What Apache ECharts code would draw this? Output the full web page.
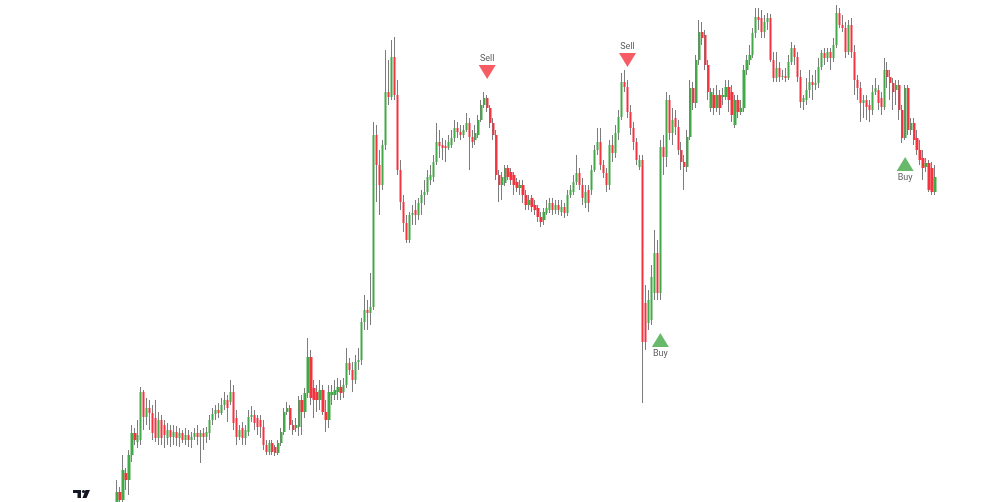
<!DOCTYPE html>
<html>
<head>
<meta charset="utf-8">
<script src="https://cdn.jsdelivr.net/npm/echarts@6/dist/echarts.min.js"></script>
<style>
html,body{margin:0;padding:0;background:#fff;}
#chart{width:1005px;height:502px;}
</style>
</head>
<body>
<div id="chart"></div>
<script>
// Each bar: [open, close, low, high]
const bars = [
[90,108,80,120],[108,100,90,113],[100,130,95,145],[127,120,110,132],[120,145,105,150],
[145,167,138,175],[167,160,155,172],[158,165,152,180],[160,208,155,213],[208,183,170,210],
[183,192,175,202],[192,187,170,200],[187,167,160,195],[182,162,158,200],[162,180,155,188],
[180,162,155,185],[175,165,152,180],[162,170,155,177],[170,163,153,175],[163,168,155,175],
[168,162,154,174],[162,167,153,172],[167,160,157,170],[160,165,155,172],[165,160,153,170],
[160,163,152,168],[163,167,160,172],[167,163,155,175],[163,167,137,170],[167,163,150,172],
[163,168,157,173],[167,180,160,185],[180,186,175,192],[186,190,180,195],[190,187,182,197],
[187,195,185,202],[195,200,190,208],[200,192,178,205],[198,208,195,220],[208,177,170,215],
[182,163,155,190],[163,170,160,175],[172,162,155,178],[162,170,155,175],[168,183,164,190],
[183,185,178,194],[185,177,170,190],[182,173,165,185],[180,173,162,185],[173,155,150,180],
[155,148,145,160],[148,157,145,160],[157,148,145,160],[153,147,144,155],[147,157,145,160],
[157,168,154,172],[168,188,165,192],[188,192,185,198],[192,175,170,195],[175,170,165,180],
[172,175,168,182],[173,200,164,204],[200,188,165,205],[188,207,182,212],[207,243,202,262],
[243,202,195,250],[212,200,182,220],[208,200,188,215],[200,210,190,220],[210,188,185,215],
[188,180,168,200],[180,208,172,215],[205,208,195,215],[205,210,200,220],[208,213,200,222],
[213,207,200,220],[208,215,202,222],[215,237,212,252],[237,230,225,242],[230,220,208,238],
[220,238,216,245],[238,240,230,252],[240,278,235,282],[278,290,270,305],[290,287,270,300],
[287,293,275,327],[293,465,290,478],[465,435,398,475],[435,415,385,450],[415,455,410,460],
[455,508,450,550],[508,503,495,540],[503,543,500,560],[543,505,500,563],[505,430,425,520],
[430,398,390,440],[398,377,368,405],[377,360,357,385],[360,385,357,388],[385,387,375,395],
[390,385,375,400],[385,397,380,402],[397,405,385,410],[405,408,395,420],[408,423,405,430],
[420,425,415,435],[423,438,418,445],[438,458,435,477],[458,454,442,470],[455,452,440,462],
[454,452,438,460],[452,458,450,465],[455,462,452,470],[462,472,458,480],[472,468,462,478],
[468,465,460,475],[465,470,462,475],[470,477,468,487],[477,463,430,482],[463,458,452,470],
[460,467,455,475],[465,480,462,485],[480,495,478,500],[495,502,492,508],[502,492,488,505],
[492,477,472,495],[477,465,460,482],[465,425,420,470],[425,415,398,430],[415,423,400,428],
[417,432,414,435],[432,423,420,435],[428,420,415,432],[425,415,405,428],[418,412,408,422],
[412,415,405,420],[415,405,397,420],[405,395,390,410],[395,400,390,405],[402,393,388,405],
[395,390,385,400],[392,383,378,395],[383,378,373,388],[380,388,375,392],[387,392,385,400],
[390,397,387,402],[397,390,385,402],[390,395,386,400],[395,390,385,400],[388,393,384,400],
[393,387,382,397],[387,405,384,410],[405,410,402,415],[408,418,405,425],[418,427,415,445],
[427,415,410,432],[415,402,395,422],[397,408,392,415],[410,397,388,415],[410,430,405,435],
[430,450,428,455],[450,458,445,472],[458,435,430,472],[435,427,422,440],[427,415,408,432],
[415,455,410,460],[455,447,438,465],[447,467,442,475],[467,483,460,490],[483,518,480,527],
[518,513,508,530],[513,488,482,520],[488,472,465,495],[472,458,450,478],[458,440,435,462],
[433,440,430,445],[440,258,197,445],[297,258,250,315],[277,300,270,310],[280,323,275,335],
[307,347,300,370],[347,307,300,360],[307,453,300,460],[453,443,425,465],[443,500,433,508],
[500,467,460,505],[467,480,455,492],[482,473,465,490],[473,450,445,480],[450,438,430,458],
[438,433,410,445],[433,463,428,470],[463,512,460,520],[512,497,490,518],[497,540,492,545],
[540,568,535,580],[568,562,555,578],[565,535,530,570],[535,508,500,540],[492,508,488,512],
[505,492,485,512],[492,505,488,515],[505,492,485,510],[503,505,495,512],[503,513,500,520],
[513,500,488,520],[508,485,478,515],[475,500,472,505],[500,488,482,505],[488,492,485,500],
[492,530,488,535],[530,540,525,545],[540,545,535,555],[545,567,542,572],[567,583,562,592],
[583,580,570,592],[582,568,562,590],[568,578,562,585],[578,582,570,587],[582,540,538,586],
[540,522,518,548],[522,532,518,548],[532,523,518,538],[523,524,520,530],[524,522,518,532],
[522,538,520,545],[538,552,535,558],[552,543,535,555],[543,523,518,548],[523,498,492,530],
[498,502,490,505],[500,510,495,522],[510,518,502,530],[518,515,500,525],[515,517,510,530],
[517,533,512,542],[533,547,530,550],[547,542,535,552],[542,548,538,552],[548,542,530,552],
[542,555,538,562],[555,587,552,595],[587,575,572,592],[575,572,568,585],[572,548,542,578],
[548,575,545,580],[575,548,542,582],[548,520,505,555],[520,512,500,525],[512,497,478,518],
[497,500,482,505],[500,493,480,505],[495,490,478,500],[490,508,485,515],[508,512,505,522],
[510,497,490,515],[502,493,485,508],[493,530,490,542],[530,523,512,538],[523,517,500,530],
[517,508,490,522],[510,515,495,520],[515,490,480,520],[490,462,457,495],[462,512,460,515],
[512,470,465,515],[470,477,465,482],[477,460,455,482],[462,450,445,470],[450,440,435,460],
[442,432,420,450],[433,437,428,442],[437,410,408,440],[432,408,405,438],[408,423,405,435]
];
// Signals: [bar index, marker price]
const sellSignals = [[124, 528], [171, 540]];
const buySignals = [[182, 260], [264, 436]];
const sellLabel = 'Sell';
const buyLabel = 'Buy';

const categories = bars.map((b, i) => String(i));
const bodies = bars.map(b => [b[0], b[1], Math.min(b[0], b[1]), Math.max(b[0], b[1])]);

const GREEN = '#43A847';
const RED = '#F5333F';
const WICK = '#7c7c7c';

const chart = echarts.init(document.getElementById('chart'), null, {renderer: 'canvas'});
chart.setOption({
  animation: false,
  backgroundColor: '#ffffff',
  grid: {left: 115.5, width: 821, top: 0, height: 502},
  xAxis: {type: 'category', data: categories, show: false, boundaryGap: true},
  yAxis: {type: 'value', min: 98, max: 600, show: false, splitLine: {show: false}},
  series: [
    {
      type: 'candlestick', data: bars, barWidth: 1, silent: true,
      itemStyle: {color: WICK, color0: WICK, borderColor: WICK, borderColor0: WICK, borderWidth: 1}
    },
    {
      type: 'candlestick', data: bodies, barWidth: 2.7, silent: true,
      itemStyle: {color: GREEN, color0: RED, borderColor: GREEN, borderColor0: RED, borderWidth: 0}
    },
    {
      type: 'scatter', data: sellSignals, symbol: 'triangle', symbolRotate: 180, symbolSize: [17, 14],
      itemStyle: {color: RED}, silent: true,
      label: {show: true, position: 'top', distance: 2, formatter: sellLabel, fontSize: 9, color: '#333', fontFamily: 'Roboto, sans-serif'}
    },
    {
      type: 'scatter', data: buySignals, symbol: 'triangle', symbolSize: [17, 14],
      itemStyle: {color: GREEN}, silent: true,
      label: {show: true, position: 'bottom', distance: 2, formatter: buyLabel, fontSize: 9, color: '#333', fontFamily: 'Roboto, sans-serif'}
    }
  ],
  graphic: [
    {type: 'rect', shape: {x: 73, y: 490, width: 8, height: 3}, style: {fill: '#131722'}},
    {type: 'rect', shape: {x: 77.5, y: 490, width: 3.5, height: 8}, style: {fill: '#131722'}},
    {type: 'circle', shape: {cx: 83.5, cy: 491.5, r: 1.6}, style: {fill: '#131722'}},
    {type: 'polygon', shape: {points: [[85.5, 490], [90, 490], [86.5, 498], [82.5, 498]]}, style: {fill: '#131722'}}
  ]
});
</script>
</body>
</html>
